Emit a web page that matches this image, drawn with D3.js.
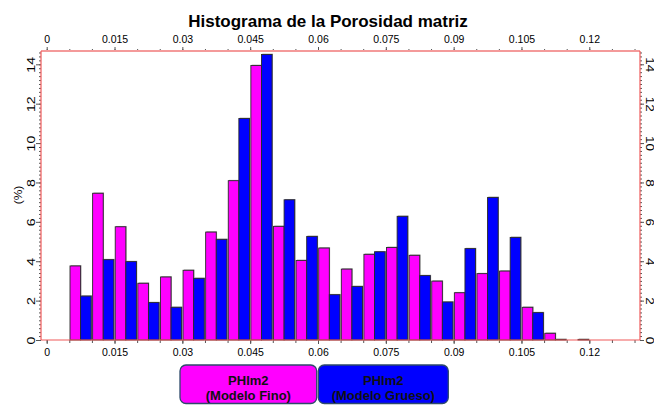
<!DOCTYPE html>
<html><head><meta charset="utf-8">
<script src="https://cdn.jsdelivr.net/npm/d3@7"></script>
<style>html,body{margin:0;padding:0;background:#fff;}svg{display:block;font-family:"Liberation Sans",Arial,sans-serif;}</style>
</head><body>
<svg id="chart" width="654" height="406"></svg>
<script>
// ---- data ----
const binStarts = [0.005,0.010,0.015,0.020,0.025,0.030,0.035,0.040,0.045,0.050,0.055,0.060,0.065,0.070,0.075,0.080,0.085,0.090,0.095,0.100,0.105,0.110,0.115];
const binWidth = 0.005;
const fino   = [3.76,7.45,5.75,2.88,3.20,3.54,5.48,8.09,13.94,5.77,4.04,4.67,3.60,4.35,4.70,4.30,2.99,2.40,3.37,3.50,1.66,0.34,0.00];
const grueso = [2.23,4.08,3.98,1.90,1.66,3.13,5.11,11.25,14.50,7.12,5.26,2.30,2.72,4.48,6.28,3.27,1.93,4.64,7.24,5.21,1.39,0.03,0.03];
const xTickValues = [0,0.015,0.03,0.045,0.06,0.075,0.09,0.105,0.12];
const xTickLabels = ["0","0.015","0.03","0.045","0.06","0.075","0.09","0.105","0.12"];
const yTickValues = [0,2,4,6,8,10,12,14];
const yTickLabels = ["0","2","4","6","8","10","12","14"];
const seriesNames = ["PHIm2\n(Modelo Fino)","PHIm2\n(Modelo Grueso)"];
const seriesColors = ["#ff00ff","#0000ff"];
const title = "Histograma de la Porosidad matriz";
const yTitle = "(%)";

// ---- layout ----
const svg = d3.select("#chart");
const L = 41, R = 640, T = 51, B = 340;
const x = d3.scaleLinear().domain([0,0.12]).range([46.7,589.3]);
const y = d3.scaleLinear().domain([0,14]).range([B,64.3]);
const frameColor = "#f05a5a";
const tickColor = "#555";

// title
svg.append("text").attr("x",328).attr("y",26.5).attr("text-anchor","middle")
  .attr("font-size",17).attr("font-weight","bold").attr("fill","#000").text(title);

// bars
const barsG = svg.append("g");
const pad = 0.7;
binStarts.forEach((b,i)=>{
  const x0 = x(b), xm = x(b+binWidth/2), x1 = x(b+binWidth);
  const defs = [
    {v:fino[i], a:x0+pad, c:xm, col:seriesColors[0]},
    {v:grueso[i], a:xm, c:x1-pad, col:seriesColors[1]}
  ];
  defs.forEach(d=>{
    const yt = y(d.v), h = B - yt;
    if (d.v <= 0) return;
    barsG.append("rect").attr("x",d.a+0.8).attr("y",yt-0.8).attr("width",d.c-d.a).attr("height",h+0.8)
      .attr("fill","#9a9a9a");
    barsG.append("rect").attr("x",d.a).attr("y",yt).attr("width",d.c-d.a).attr("height",h)
      .attr("fill",d.col).attr("stroke","#2a2a2a").attr("stroke-width",0.9);
  });
});

// axes
function styleAxis(g){
  g.select(".domain").remove();
  g.selectAll("line").attr("stroke",tickColor);
  g.selectAll("text").attr("fill","#000").attr("font-family",'"Liberation Sans",Arial,sans-serif');
}
const xMinor = d3.range(0,0.1301,0.005);
const yMinor = d3.range(0,14.61,0.2);

// bottom
svg.append("g").attr("transform",`translate(0,${B})`)
  .call(d3.axisBottom(x).tickValues(xMinor).tickSize(3).tickFormat(""))
  .call(styleAxis);
svg.append("g").attr("transform",`translate(0,${B})`)
  .call(d3.axisBottom(x).tickValues(xTickValues).tickSize(4).tickPadding(5).tickFormat((d,i)=>xTickLabels[i]))
  .call(styleAxis).call(g=>g.selectAll("text").attr("font-size",10.5));
// top
svg.append("g").attr("transform",`translate(0,${T})`)
  .call(d3.axisTop(x).tickValues(xMinor).tickSize(2).tickFormat(""))
  .call(styleAxis);
svg.append("g").attr("transform",`translate(0,${T})`)
  .call(d3.axisTop(x).tickValues(xTickValues).tickSize(4).tickPadding(4).tickFormat((d,i)=>xTickLabels[i]))
  .call(styleAxis).call(g=>g.selectAll("text").attr("font-size",10.5));
// left
svg.append("g").attr("transform",`translate(${L},0)`)
  .call(d3.axisLeft(y).tickValues(yMinor).tickSize(2).tickFormat(""))
  .call(styleAxis);
svg.append("g").attr("transform",`translate(${L},0)`)
  .call(d3.axisLeft(y).tickValues(yTickValues).tickSize(5).tickFormat((d,i)=>yTickLabels[i]))
  .call(styleAxis)
  .call(g=>g.selectAll("text").attr("x",null).attr("dy",null).attr("font-size",10.5)
     .attr("text-anchor","middle").attr("transform","translate(-6.5,0) rotate(-90) scale(1.35,1)"));
// right
svg.append("g").attr("transform",`translate(${R},0)`)
  .call(d3.axisRight(y).tickValues(yMinor).tickSize(2).tickFormat(""))
  .call(styleAxis);
svg.append("g").attr("transform",`translate(${R},0)`)
  .call(d3.axisRight(y).tickValues(yTickValues).tickSize(4).tickFormat((d,i)=>yTickLabels[i]))
  .call(styleAxis)
  .call(g=>g.selectAll("text").attr("x",null).attr("dy",null).attr("font-size",10)
     .attr("text-anchor","middle").attr("transform","translate(5.5,0) rotate(90) scale(1.35,1)"));

// frame
svg.append("line").attr("x1",L).attr("x2",R).attr("y1",T).attr("y2",T).attr("stroke","#f49a9a").attr("stroke-width",2);
svg.append("line").attr("x1",L).attr("x2",R).attr("y1",B).attr("y2",B).attr("stroke",frameColor).attr("stroke-width",1.2);
svg.append("line").attr("x1",L).attr("x2",L).attr("y1",T).attr("y2",B).attr("stroke",frameColor).attr("stroke-width",1.2);
svg.append("line").attr("x1",R).attr("x2",R).attr("y1",T).attr("y2",B).attr("stroke",frameColor).attr("stroke-width",1.2);

// y title
svg.append("text").attr("transform","translate(22,195) rotate(-90) scale(1.2,1)").attr("text-anchor","middle")
  .attr("font-size",10).attr("fill","#000").text(yTitle);

// legend
const legendBoxes = [{x:180,w:136.7},{x:318.3,w:130}];
seriesNames.forEach((name,i)=>{
  const bx = legendBoxes[i];
  svg.append("rect").attr("x",bx.x).attr("y",365).attr("width",bx.w).attr("height",38.5).attr("rx",6)
    .attr("fill",seriesColors[i]).attr("stroke","#2d4a6a").attr("stroke-width",1.3);
  const lines = name.split("\n");
  lines.forEach((ln,j)=>{
    svg.append("text").attr("x",bx.x+bx.w/2).attr("y",384.5+j*15).attr("text-anchor","middle")
      .attr("font-size",13).attr("font-weight","bold").attr("fill","#111").text(ln);
  });
});
</script>
</body></html>
